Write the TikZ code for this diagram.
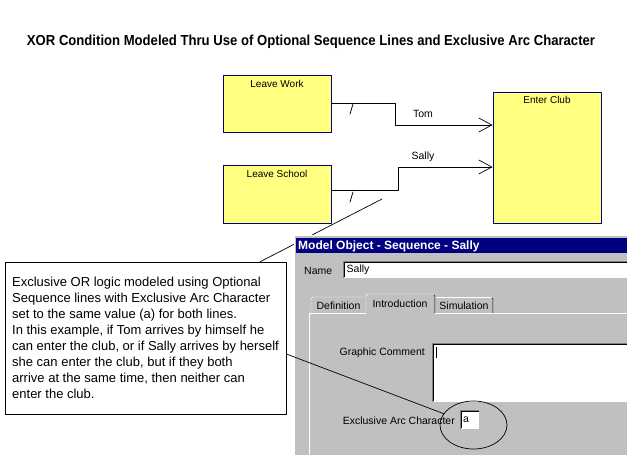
\documentclass[tikz,border=0pt]{standalone}
\usepackage{fontspec}
\setmainfont{Liberation Sans}
\usetikzlibrary{arrows.meta,shapes.geometric}
\definecolor{paleyellow}{RGB}{255,255,128}
\definecolor{boxnavy}{RGB}{0,0,128}
\definecolor{wingray}{RGB}{192,192,192}
\definecolor{shadegray}{RGB}{128,128,128}

\begin{document}
\begin{tikzpicture}[x=1pt,y=-1pt, line cap=round, line join=round]

\tikzset{
  task/.style={draw=boxnavy, fill=paleyellow, line width=0.9pt, minimum width=108pt, inner sep=0pt},
  tasklabel/.style={anchor=north, yshift=-2pt, font=\fontsize{10}{12}\selectfont},
  seq/.style={line width=0.9pt, -{Straight Barb[length=13pt, width=14pt, line width=0.7pt]}},
  linelabel/.style={font=\fontsize{10.5}{12}\selectfont},
  tick/.style={line width=0.8pt},
  note/.style={draw, line width=0.8pt, minimum width=281pt, minimum height=152pt, align=left, font=\fontsize{13}{16}\selectfont},
  callout/.style={line width=0.7pt},
  dlgtext/.style={font=\fontsize{10.5}{12}\selectfont, inner sep=0pt}
}

\useasboundingbox[fill=white] (0,0) rectangle (627,455);

\node (title) at (311,42) {\resizebox{568pt}{10.5pt}{\bfseries XOR Condition Modeled Thru Use of Optional Sequence Lines and Exclusive Arc Character}};

\node[task, minimum height=57pt, label={[tasklabel]north:Leave Work}] (lw) at (277,103.5) {};
\node[task, minimum height=58pt, label={[tasklabel]north:Leave School}] (ls) at (277,194) {};
\node[task, minimum height=131pt, label={[tasklabel, yshift=1pt]north:Enter Club}] (ec) at (547,157.5) {};

\coordinate (tombend) at (395,125);
\coordinate (sallybend) at (398,167);
\draw[seq] (lw.east) -| (tombend) -- (tombend -| ec.west);
\draw[seq] ([yshift=4pt]ls.east) -| (sallybend) -- (sallybend -| ec.west);
\node[linelabel] (tom) at (423,114) {Tom};
\node[linelabel] (sally) at (423,157) {Sally};
\draw[tick] (350,114) -- (353,104);
\draw[tick] (350,202) -- (353,192);

\node[note] (note) at (145.5,338) {Exclusive OR logic modeled using Optional\\
Sequence lines with Exclusive Arc Character\\
set to the same value (a) for both lines.\\
In this example, if Tom arrives by himself he\\
can enter the club, or if Sally arrives by herself\\
she can enter the club, but if they both\\
arrive at the same time, then neither can\\
enter the club.};
\coordinate (pointer) at (382,199);
\draw[callout] (pointer) -- ([xshift=-26pt]note.north east);

\fill[wingray] (294,235) rectangle (627,455);
\draw[white] (294.5,455) -- (294.5,235.5) -- (627,235.5);
\fill[boxnavy] (296,238) rectangle (627,253);
\node[anchor=west, text=white, inner sep=0pt, font=\fontsize{12}{14}\selectfont\bfseries] (dlgtitle) at (298,246) {Model Object - Sequence - Sally};

\node[dlgtext, anchor=west] (namelbl) at (304,271) {Name};
\fill[white] (343,261) rectangle (627,278);
\draw[shadegray] (343,278) -- (343,261) -- (627,261);
\draw[black] (344,277) -- (344,262) -- (627,262);
\node[dlgtext, anchor=west] (namefld) at (346.5,269.5) {Sally};

\draw[white] (309,455) -- (309,313) -- (627,313);
\draw[white] (311,313) -- (311,299) -- (313,297) -- (364,297);
\draw[white] (436,297) -- (491,297);
\draw[black] (492,298) -- (493,299) -- (493,313);
\draw[shadegray] (492,299) -- (492,313);
\fill[wingray] (366,294) rectangle (435,314);
\draw[white] (366,314) -- (366,296) -- (368,294) -- (433,294);
\draw[black] (434,295) -- (435,296) -- (435,313);
\draw[shadegray] (434,296) -- (434,313);
\node[dlgtext] (tabdef) at (338.5,306) {Definition};
\node[dlgtext] (tabintro) at (400,304) {Introduction};
\node[dlgtext] (tabsim) at (464,306) {Simulation};

\node[dlgtext, anchor=east] (commentlbl) at (425,353) {Graphic Comment};
\fill[white] (432,343) rectangle (627,402);
\draw[shadegray] (432,402) -- (432,343) -- (627,343);
\draw[black] (433,401) -- (433,344) -- (627,344);
\draw[line width=1.2pt, line cap=butt] (436.5,347) -- (436.5,358);

\node[dlgtext, anchor=east] (arclbl) at (455,421) {Exclusive Arc Character};
\fill[white] (460,410) rectangle (479,429);
\draw[shadegray] (460,429) -- (460,410) -- (479,410);
\draw[black] (461,428) -- (461,411) -- (479,411);
\node[dlgtext, anchor=west] (arcfld) at (463,420) {a};

\node[draw, ellipse, line width=0.7pt, minimum width=67pt, minimum height=48pt] (ring) at (473.5,425) {};
\draw[callout] ([yshift=-16pt]note.east) -- (ring);

\end{tikzpicture}
\end{document}
